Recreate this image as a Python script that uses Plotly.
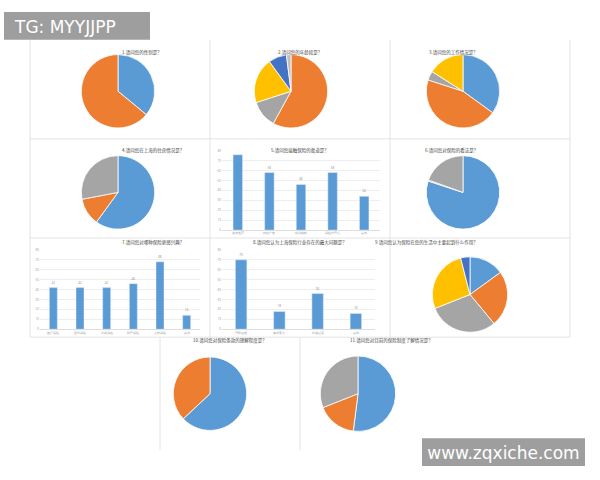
import plotly.graph_objects as go

W, H = 600, 480
BLUE, ORANGE, GRAY, YELLOW, DBLUE = "#5B9BD5", "#ED7D31", "#A5A5A5", "#FFC000", "#4472C4"

titles = ["1.请问您的性别是？", "2.请问您的年龄段是？", "3.请问您的工作情况是？",
          "4.请问您在上海的住房情况是？", "5.请问您接触保险的渠道是？", "6.请问您对保险的看法是？",
          "7.请问您对哪种保险更感兴趣？", "8.请问您认为上海保险行业存在的最大问题是？",
          "9.请问您认为保险在您的生活中主要起到什么作用？",
          "10.请问您对保险条款的理解程度是？", "11.请问您对目前的保险制度了解情况是？"]

pie1 = [36, 64]; pie1_c = [BLUE, ORANGE]
pie2 = [58, 12, 20, 8, 2]; pie2_c = [ORANGE, GRAY, YELLOW, DBLUE, "#BFBFBF"]
pie3 = [35, 45, 4, 16]; pie3_c = [BLUE, ORANGE, GRAY, YELLOW]
pie4 = [60, 12, 28]; pie4_c = [BLUE, ORANGE, GRAY]
pie6 = [80, 0.5, 19.5]; pie6_c = [BLUE, ORANGE, GRAY]
pie9 = [15, 24, 30, 27, 4]; pie9_c = [BLUE, ORANGE, GRAY, YELLOW, DBLUE]
pie10 = [63, 37]; pie10_c = [BLUE, ORANGE]
pie11 = [52, 17, 31]; pie11_c = [BLUE, ORANGE, GRAY]

bar5_cats = ["朋友推荐", "网络广告", "电话推销", "保险代理人", "其他"]
bar5_vals = [76, 58, 46, 58, 34]
bar7_cats = ["医疗保险", "意外保险", "养老保险", "财产保险", "人寿保险", "其他"]
bar7_vals = [42, 42, 42, 46, 68, 14]
bar8_cats = ["理赔困难", "条款复杂", "价格过高", "其他"]
bar8_vals = [70, 18, 36, 16]

fig = go.Figure()

def px_x(x): return x / W
def px_y(y): return 1 - y / H

def add_pie(vals, cols, cx, cy, r):
    fig.add_trace(go.Pie(values=vals, marker=dict(colors=cols, line=dict(color="white", width=0.8)),
                         sort=False, direction="clockwise", rotation=0, textinfo="none",
                         hoverinfo="percent", showlegend=False,
                         domain=dict(x=[px_x(cx - r), px_x(cx + r)], y=[px_y(cy + r), px_y(cy - r)])))

add_pie(pie1, pie1_c, 118, 90, 37)
add_pie(pie2, pie2_c, 291, 90, 37)
add_pie(pie3, pie3_c, 463, 90, 37)
add_pie(pie4, pie4_c, 118, 192, 37)
add_pie(pie6, pie6_c, 463, 192, 37)
add_pie(pie9, pie9_c, 470, 295, 38)
add_pie(pie10, pie10_c, 210, 395, 37)
add_pie(pie11, pie11_c, 358, 395, 38)

bars = [(bar5_cats, bar5_vals, (222, 380, 150, 230), 80),
        (bar7_cats, bar7_vals, (40, 200, 250, 330), 80),
        (bar8_cats, bar8_vals, (222, 375, 250, 330), 80)]
for i, (cats, vals, (x0, x1, y0, y1), ymax) in enumerate(bars):
    xa = "x" if i == 0 else f"x{i+1}"
    ya = "y" if i == 0 else f"y{i+1}"
    fig.add_trace(go.Bar(x=cats, y=vals, marker_color=BLUE, width=0.3, xaxis=xa, yaxis=ya,
                         text=[str(v) for v in vals], textposition="outside",
                         textfont=dict(size=3, color="#888"), showlegend=False))
    k = "" if i == 0 else str(i + 1)
    fig.layout["xaxis" + k] = dict(domain=[px_x(x0), px_x(x1)], anchor=ya, showticklabels=True,
                                  tickfont=dict(size=3, color="#999"), showline=True,
                                  linecolor="#ddd", linewidth=0.5)
    fig.layout["yaxis" + k] = dict(domain=[px_y(y1), px_y(y0)], anchor=xa, range=[0, ymax],
                                  tickfont=dict(size=3, color="#999"), showgrid=True,
                                  gridcolor="#eee", gridwidth=0.5, dtick=10)

title_pos = [(120, 45), (300, 45), (480, 45), (120, 144), (300, 144), (480, 144),
             (120, 243), (300, 243), (480, 243), (230, 347), (435, 347)]
for t, (x, y) in zip(titles, title_pos):
    fig.add_annotation(x=px_x(x), y=px_y(y), xref="paper", yref="paper", text=t, showarrow=False,
                       font=dict(size=4.5, color="#444", family="Noto Sans CJK SC"))

lines = [(30, 138, 570, 138), (30, 238, 570, 238), (30, 338, 570, 338),
         (210, 38, 210, 338), (390, 38, 390, 338), (300, 338, 300, 452),
         (30, 38, 30, 338), (570, 38, 570, 338), (160, 338, 160, 452)]
shapes = [dict(type="line", xref="paper", yref="paper", x0=px_x(a), y0=px_y(b), x1=px_x(c), y1=px_y(d),
               line=dict(color="#ddd", width=0.8), layer="below") for a, b, c, d in lines]
shapes.append(dict(type="rect", xref="paper", yref="paper", x0=px_x(4), y0=px_y(10), x1=px_x(150), y1=px_y(38),
                   fillcolor="#9e9e9e", line=dict(width=0), layer="above",
                   label=dict(text="TG: MYYJJPP", textposition="middle left", padding=8,
                              font=dict(size=17, color="white", family="DejaVu Sans"))))
shapes.append(dict(type="rect", xref="paper", yref="paper", x0=px_x(422), y0=px_y(440), x1=px_x(585), y1=px_y(468),
                   fillcolor="#9e9e9e", line=dict(width=0), layer="above",
                   label=dict(text="www.zqxiche.com", textposition="middle center",
                              font=dict(size=17, color="white", family="DejaVu Sans"))))

fig.update_layout(width=W, height=H, margin=dict(l=0, r=0, t=0, b=0), paper_bgcolor="white",
                  plot_bgcolor="white", shapes=shapes, bargap=0.5)
fig.write_html("out.html", post_script="document.body.style.margin='0';",
               config={"displayModeBar": False})
